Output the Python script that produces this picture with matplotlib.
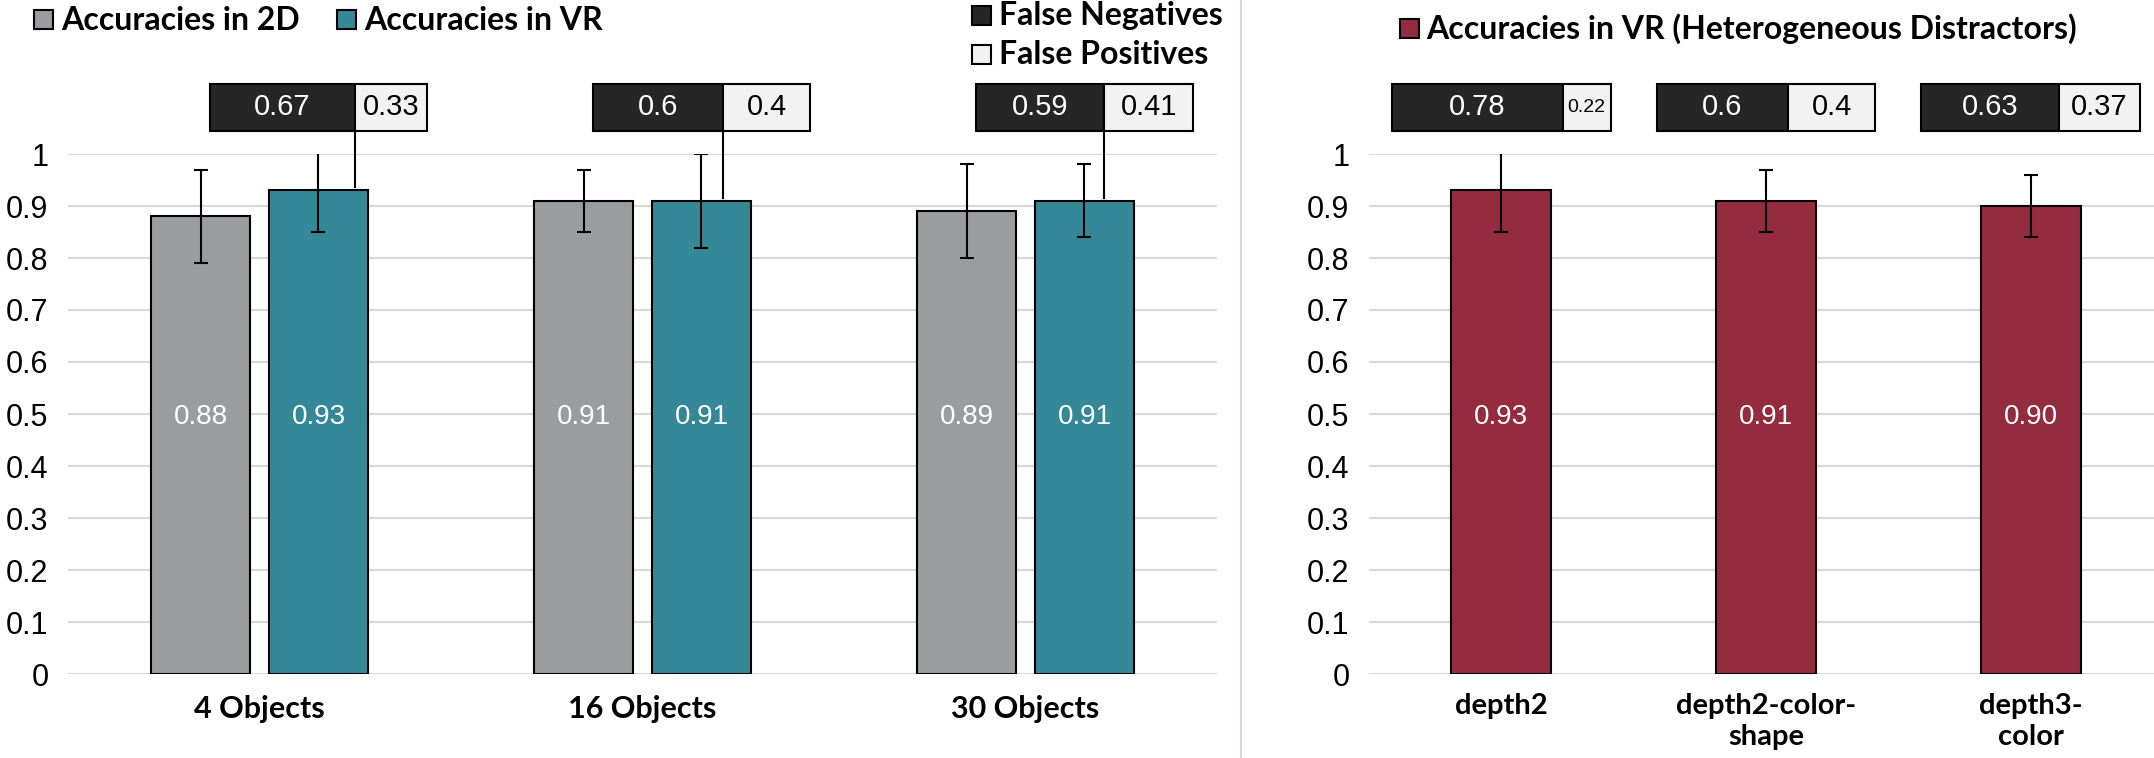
import matplotlib
matplotlib.use('Agg')
import matplotlib.pyplot as plt
from matplotlib.patches import Rectangle
from matplotlib.lines import Line2D
import numpy as np

# data
groups = ['4 Objects', '16 Objects', '30 Objects']
acc_2d = [0.88, 0.91, 0.89]
err_2d = [0.09, 0.06, 0.09]
acc_vr = [0.93, 0.91, 0.91]
err_vr = [0.08, 0.09, 0.07]
fn_left = [0.67, 0.6, 0.59]
fp_left = [0.33, 0.4, 0.41]

conds = ['depth2', 'depth2-color-\nshape', 'depth3-\ncolor']
acc_het = [0.93, 0.91, 0.90]
err_het = [0.08, 0.06, 0.06]
fn_right = [0.78, 0.6, 0.63]
fp_right = [0.22, 0.4, 0.37]

c_2d = '#9A9D9E'
c_vr = '#358898'
c_het = '#952B3E'
c_fn = '#262626'
c_fp = '#F2F2F2'
c_grid = '#D9D9D9'

bold_font = 'Lato'
arial = 'Liberation Sans'

W, H = 2154, 758
fig = plt.figure(figsize=(W / 100, H / 100), dpi=100)


def fx(px):
    return px / W


def fy(py):
    return 1 - py / H


def setup(ax):
    ax.set_ylim(0, 1)
    ax.set_xlim(-0.5, 2.5)
    ax.set_yticks(np.arange(0, 1.01, 0.1))
    ax.set_yticklabels(['0'] + ['%.1f' % v for v in np.arange(0.1, 0.95, 0.1)] + ['1'],
                       fontfamily=arial, fontsize=22)
    ax.tick_params(axis='y', length=0, pad=14)
    ax.tick_params(axis='x', length=0, pad=15)
    for s in ax.spines.values():
        s.set_visible(False)
    ax.grid(axis='y', color=c_grid, lw=1.5)
    ax.set_axisbelow(True)


def fn_box(ax, xc, width, fn, fp, small=False, leader_to=None):
    y0, y1 = 1.045, 1.135
    left = xc - width / 2
    xb = left + fn * width
    ax.add_patch(Rectangle((left, y0), fn * width, y1 - y0, facecolor=c_fn,
                           edgecolor='black', lw=1.5, clip_on=False, zorder=5))
    ax.add_patch(Rectangle((xb, y0), fp * width, y1 - y0, facecolor=c_fp,
                           edgecolor='black', lw=1.5, clip_on=False, zorder=5))
    ym = (y0 + y1) / 2
    ax.text(left + fn * width / 2, ym, '%g' % fn, color='white', ha='center', va='center',
            fontfamily=arial, fontsize=21, zorder=6, clip_on=False)
    ax.text(xb + fp * width / 2, ym, '%g' % fp, color='black', ha='center', va='center',
            fontfamily=arial, fontsize=14 if small else 21, zorder=6, clip_on=False)
    if leader_to is not None:
        ax.add_line(Line2D([xb, xb], [y0, leader_to], color='black', lw=1.5,
                           clip_on=False, zorder=4))


# left panel
ax1 = fig.add_axes([fx(68), fy(674), fx(1217 - 68), (674 - 154) / H])
setup(ax1)
x = np.arange(len(groups))
off = 0.154
bw = 0.26
ekw = dict(elinewidth=1.5, capthick=1.5, capsize=5, ecolor='black')
ax1.bar(x - off, acc_2d, bw, yerr=err_2d, color=c_2d, edgecolor='black', lw=1.5,
        error_kw=ekw, zorder=2)
ax1.bar(x + off, acc_vr, bw, yerr=err_vr, color=c_vr, edgecolor='black', lw=1.5,
        error_kw=ekw, zorder=2)
for i in range(len(groups)):
    ax1.text(x[i] - off, 0.495, '%.2f' % acc_2d[i], color='white', ha='center', va='center',
             fontfamily=arial, fontsize=20, zorder=3)
    ax1.text(x[i] + off, 0.495, '%.2f' % acc_vr[i], color='white', ha='center', va='center',
             fontfamily=arial, fontsize=20, zorder=3)
    fn_box(ax1, x[i] + off, 0.568, fn_left[i], fp_left[i], leader_to=acc_vr[i] + 0.006)
ax1.set_xticks(x)
ax1.set_xticklabels(groups, fontfamily=bold_font, fontweight='bold', fontsize=22)

# right panel
ax2 = fig.add_axes([fx(1369), fy(674), fx(2163 - 1369), (674 - 154) / H])
setup(ax2)
x2 = np.arange(len(conds))
ax2.bar(x2, acc_het, 0.377, yerr=err_het, color=c_het, edgecolor='black', lw=1.5,
        error_kw=ekw, zorder=2)
for i in range(len(conds)):
    ax2.text(x2[i], 0.495, '%.2f' % acc_het[i], color='white', ha='center', va='center',
             fontfamily=arial, fontsize=20, zorder=3)
    fn_box(ax2, x2[i], 0.826, fn_right[i], fp_right[i], small=(fp_right[i] < 0.3))
ax2.set_xticks(x2)
ax2.set_xticklabels(conds, fontfamily=bold_font, fontweight='bold', fontsize=21,
                    linespacing=1.2)
ax2.tick_params(axis='x', pad=14)

# divider
fig.add_artist(Line2D([fx(1241), fx(1241)], [0, 1], color=c_grid, lw=1.5))


def legend_item(px, py, color, label, size=19):
    fig.add_artist(Rectangle((fx(px - size / 2), fy(py + size / 2)), size / W, size / H,
                             facecolor=color, edgecolor='black', lw=1.5))
    fig.text(fx(px + size / 2 + 8), fy(py + 1), label, ha='left', va='center',
             fontfamily=bold_font, fontweight='bold', fontsize=23)


legend_item(43.5, 19, c_2d, 'Accuracies in 2D')
legend_item(346.5, 19, c_vr, 'Accuracies in VR')
legend_item(981.5, 15, c_fn, 'False Negatives')
legend_item(981.5, 54, c_fp, 'False Positives')
legend_item(1409, 28, c_het, 'Accuracies in VR (Heterogeneous Distractors)')

fig.savefig('out.png', dpi=100)
